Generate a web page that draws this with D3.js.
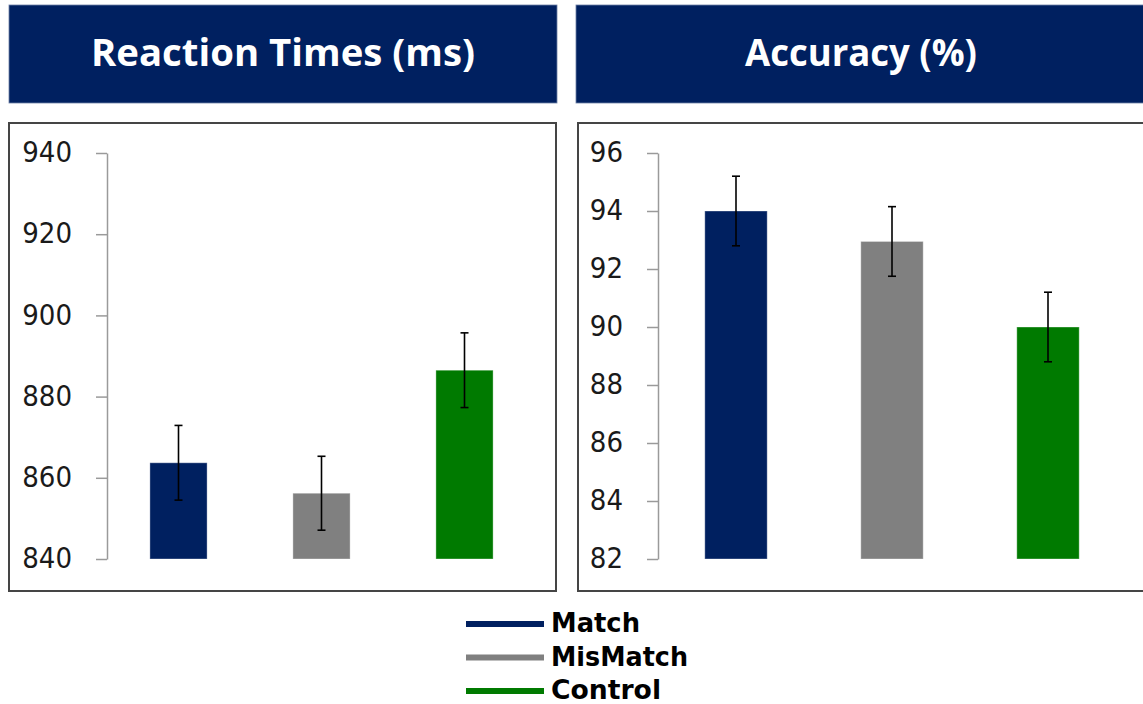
<!DOCTYPE html>
<html>
<head>
<meta charset="utf-8">
<script src="https://cdn.jsdelivr.net/npm/d3@7"></script>
<style>
  html, body { margin: 0; padding: 0; background: #ffffff; }
  svg { display: block; }
</style>
</head>
<body>
<svg id="chart" width="1143" height="704"></svg>
<script>
// Conditions and their colours
const conditions = ["Match", "MisMatch", "Control"];
const colors = ["#002060", "#808080", "#007A00"];

// Reaction times (ms): means and standard errors
const rtMeans = [863.7, 856.2, 886.5];
const rtErrors = [9.2, 9.1, 9.2];
const rtTicks = [840, 860, 880, 900, 920, 940];

// Accuracy (%): means and standard errors
const accMeans = [94.0, 92.95, 90.0];
const accErrors = [1.2, 1.2, 1.2];
const accTicks = [82, 84, 86, 88, 90, 92, 94, 96];

const svg = d3.select("#chart");
const tickFont = "'DejaVu Sans Condensed', 'DejaVu Sans', sans-serif";

// One header box + bordered panel with a bar chart and error bars
function drawPanel(opt) {
  const g = svg.append("g");

  // header box
  g.append("rect")
    .attr("x", opt.header[0]).attr("y", 5)
    .attr("width", opt.header[1] - opt.header[0]).attr("height", 98)
    .attr("fill", "#002060")
    .attr("stroke", "#6d7fa6").attr("stroke-width", 0.8);
  g.append("text")
    .attr("x", (opt.header[0] + opt.header[1]) / 2)
    .attr("y", 66)
    .attr("text-anchor", "middle")
    .attr("fill", "#ffffff")
    .attr("font-family", "'Liberation Sans Narrow', 'Open Sans', sans-serif")
    .attr("font-weight", "bold")
    .attr("font-size", 38)
    .attr("textLength", opt.titleWidth)
    .attr("lengthAdjust", "spacingAndGlyphs")
    .text(opt.title);

  // panel border
  g.append("rect")
    .attr("x", opt.panel[0]).attr("y", 123)
    .attr("width", opt.panel[1] - opt.panel[0]).attr("height", 468)
    .attr("fill", "#ffffff")
    .attr("stroke", "#454545").attr("stroke-width", 2);

  const y = d3.scaleLinear().domain(opt.domain).range([559, 153]);
  const x = d3.scaleBand()
    .domain(conditions)
    .range([opt.axisX, opt.axisX + opt.rangeW])
    .paddingInner(0.6)
    .paddingOuter(0.3);

  // y axis
  const axis = g.append("g")
    .attr("transform", `translate(${opt.axisX},0)`)
    .call(d3.axisLeft(y).tickValues(opt.ticks).tickSize(11).tickPadding(24).tickSizeOuter(0));
  axis.select(".domain").attr("stroke", "#9a9a9a").attr("stroke-width", 1.5);
  axis.selectAll(".tick line").attr("stroke", "#9a9a9a").attr("stroke-width", 1.5);
  axis.selectAll(".tick text")
    .attr("font-family", tickFont)
    .attr("font-size", 29)
    .attr("fill", "#1a1a1a")
    .attr("dy", "0.30em");

  // bars
  g.selectAll("rect.bar")
    .data(conditions)
    .join("rect")
    .attr("class", "bar")
    .attr("x", d => x(d))
    .attr("width", x.bandwidth())
    .attr("y", (d, i) => y(opt.means[i]))
    .attr("height", (d, i) => y(opt.domain[0]) - y(opt.means[i]))
    .attr("fill", (d, i) => colors[i])
    .attr("stroke", "#ffffff").attr("stroke-opacity", 0.35).attr("stroke-width", 1);

  // error bars
  const eb = g.selectAll("g.err")
    .data(conditions)
    .join("g")
    .attr("class", "err")
    .attr("stroke", "#000000")
    .attr("stroke-width", 1.6);
  const cx = d => x(d) + x.bandwidth() / 2;
  eb.append("line")
    .attr("x1", cx).attr("x2", cx)
    .attr("y1", (d, i) => y(opt.means[i] + opt.errors[i]))
    .attr("y2", (d, i) => y(opt.means[i] - opt.errors[i]));
  eb.append("line")
    .attr("x1", d => cx(d) - 4).attr("x2", d => cx(d) + 4)
    .attr("y1", (d, i) => y(opt.means[i] + opt.errors[i]))
    .attr("y2", (d, i) => y(opt.means[i] + opt.errors[i]));
  eb.append("line")
    .attr("x1", d => cx(d) - 4).attr("x2", d => cx(d) + 4)
    .attr("y1", (d, i) => y(opt.means[i] - opt.errors[i]))
    .attr("y2", (d, i) => y(opt.means[i] - opt.errors[i]));
}

drawPanel({
  title: "Reaction Times (ms)",
  titleWidth: 384,
  header: [9, 557],
  panel: [9, 556],
  axisX: 107,
  rangeW: 429,
  domain: [840, 940],
  ticks: rtTicks,
  means: rtMeans,
  errors: rtErrors
});

drawPanel({
  title: "Accuracy (%)",
  titleWidth: 232,
  header: [576, 1146],
  panel: [578, 1150],
  axisX: 658,
  rangeW: 468,
  domain: [82, 96],
  ticks: accTicks,
  means: accMeans,
  errors: accErrors
});

// legend
const legend = svg.append("g");
const legendY = d3.scalePoint().domain(conditions).range([624, 691]);
legend.selectAll("line")
  .data(conditions)
  .join("line")
  .attr("x1", 466).attr("x2", 544)
  .attr("y1", d => legendY(d)).attr("y2", d => legendY(d))
  .attr("stroke", (d, i) => colors[i])
  .attr("stroke-width", 6);
const legendWidths = { "Match": 89, "MisMatch": 137, "Control": 110 };
legend.selectAll("text")
  .data(conditions)
  .join("text")
  .attr("x", 551)
  .attr("y", d => legendY(d) + 8)
  .attr("font-family", tickFont)
  .attr("font-weight", "bold")
  .attr("font-size", 26)
  .attr("fill", "#000000")
  .attr("textLength", d => legendWidths[d])
  .attr("lengthAdjust", "spacingAndGlyphs")
  .text(d => d);
</script>
</body>
</html>
